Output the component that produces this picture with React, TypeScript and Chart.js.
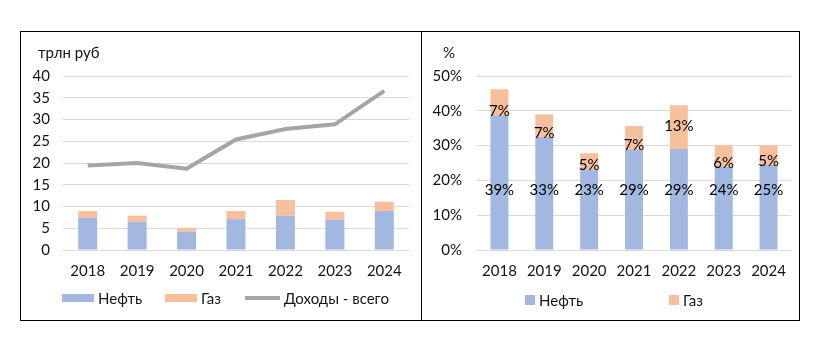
import React, { useEffect, useRef } from "react";
import { Chart, registerables } from "chart.js";

Chart.register(...registerables);

// ---- data ----
const years = ["2018", "2019", "2020", "2021", "2022", "2023", "2024"];
// left panel, трлн руб
const oilTrn = [7.4, 6.5, 4.2, 7.1, 7.9, 7.0, 9.0];
const gasTrn = [1.55, 1.4, 0.9, 1.85, 3.6, 1.8, 2.1];
const totalTrn = [19.4, 20.0, 18.7, 25.4, 27.8, 28.9, 36.6];
// right panel, % of total revenue
const oilShare = [38.7, 32.5, 23.1, 28.9, 29.0, 23.9, 24.4];
const gasShare = [7.5, 6.5, 4.7, 6.7, 12.6, 6.2, 5.7];
const oilShareLabels = ["39%", "33%", "23%", "29%", "29%", "24%", "25%"];
const gasShareLabels = ["7%", "7%", "5%", "7%", "13%", "6%", "5%"];

const FONT = "Lato, 'Liberation Sans', sans-serif";
const FS = 15;
const TEXT = "#141414";
const OIL = "#A2B8E0";
const GAS = "#F6C09C";
const LINE = "#A5A5A5";
const GRID = "#D9D9D9";

type LegendItem = { text: string; color: string; kind: "box" | "line"; x: number; w: number; h: number };

function overlayPlugin(id: string, title: string, titleX: number, items: LegendItem[], legendY: number) {
  return {
    id,
    afterDraw(chart: any) {
      const ctx = chart.ctx as CanvasRenderingContext2D;
      ctx.save();
      ctx.font = `${FS}px ${FONT}`;
      ctx.fillStyle = TEXT;
      ctx.textBaseline = "middle";
      ctx.textAlign = "left";
      ctx.fillText(title, titleX, 21);
      for (const it of items) {
        if (it.kind === "box") {
          ctx.fillStyle = it.color;
          ctx.fillRect(it.x, legendY - it.h / 2, it.w, it.h);
        } else {
          ctx.strokeStyle = it.color;
          ctx.lineWidth = 4;
          ctx.beginPath();
          ctx.moveTo(it.x, legendY);
          ctx.lineTo(it.x + it.w, legendY);
          ctx.stroke();
        }
        ctx.fillStyle = TEXT;
        ctx.fillText(it.text, it.x + it.w + 4, legendY + 1);
      }
      ctx.restore();
    },
  };
}

const shareLabelsPlugin = {
  id: "shareLabels",
  afterDatasetsDraw(chart: any) {
    const ctx = chart.ctx as CanvasRenderingContext2D;
    const yScale = chart.scales.y;
    const oilMeta = chart.getDatasetMeta(0);
    const gasMeta = chart.getDatasetMeta(1);
    ctx.save();
    ctx.font = `${FS}px ${FONT}`;
    ctx.fillStyle = "#000";
    ctx.textAlign = "center";
    ctx.textBaseline = "middle";
    oilMeta.data.forEach((bar: any, i: number) => {
      ctx.fillText(oilShareLabels[i], bar.x, yScale.getPixelForValue(17.4) + 1);
      const g = gasMeta.data[i];
      const gasPx = g.base - g.y;
      const gy = gasPx > 30 ? (g.base + g.y) / 2 - 2 : g.base - 5;
      ctx.fillText(gasShareLabels[i], g.x, gy + 1);
    });
    ctx.restore();
  },
};

function fixWidth(w: number) {
  return (scale: any) => {
    scale.width = w;
  };
}
function fixHeight(h: number) {
  return (scale: any) => {
    scale.height = h;
  };
}

function LeftChart() {
  const ref = useRef<HTMLCanvasElement>(null);
  useEffect(() => {
    const chart = new Chart(ref.current!, {
      type: "bar",
      data: {
        labels: years,
        datasets: [
          {
            type: "line",
            label: "Доходы - всего",
            data: totalTrn,
            borderColor: LINE,
            borderWidth: 4,
            pointRadius: 0,
            tension: 0,
            order: 0,
          } as any,
          { label: "Нефть", data: oilTrn, backgroundColor: OIL, order: 1, barPercentage: 0.385, categoryPercentage: 1 },
          { label: "Газ", data: gasTrn, backgroundColor: GAS, order: 1, barPercentage: 0.385, categoryPercentage: 1 },
        ],
      },
      options: {
        responsive: false,
        animation: false,
        devicePixelRatio: 1,
        layout: { padding: { left: 0, right: 12, top: 44, bottom: 40 } },
        plugins: { legend: { display: false }, tooltip: { enabled: false } },
        scales: {
          x: {
            stacked: true,
            grid: { display: false, drawTicks: false },
            border: { display: false },
            ticks: { font: { family: FONT, size: FS }, color: TEXT, padding: 12, maxRotation: 0 },
            afterFit: fixHeight(30),
          },
          y: {
            stacked: true,
            min: 0,
            max: 40,
            grid: { color: GRID, drawTicks: false },
            border: { display: false },
            ticks: { stepSize: 5, font: { family: FONT, size: FS }, color: TEXT, padding: 13 },
            afterFit: fixWidth(42),
          },
        },
      },
      plugins: [
        overlayPlugin(
          "leftOverlay",
          "трлн руб",
          17,
          [
            { text: "Нефть", color: OIL, kind: "box", x: 41, w: 32, h: 8 },
            { text: "Газ", color: GAS, kind: "box", x: 144, w: 32, h: 8 },
            { text: "Доходы - всего", color: LINE, kind: "line", x: 224, w: 35, h: 4 },
          ],
          266
        ),
      ],
    });
    return () => chart.destroy();
  }, []);
  return <canvas ref={ref} width={400} height={288} style={{ display: "block" }} />;
}

function RightChart() {
  const ref = useRef<HTMLCanvasElement>(null);
  useEffect(() => {
    const chart = new Chart(ref.current!, {
      type: "bar",
      data: {
        labels: years,
        datasets: [
          { label: "Нефть", data: oilShare, backgroundColor: OIL, barPercentage: 0.4, categoryPercentage: 1 },
          { label: "Газ", data: gasShare, backgroundColor: GAS, barPercentage: 0.4, categoryPercentage: 1 },
        ],
      },
      options: {
        responsive: false,
        animation: false,
        devicePixelRatio: 1,
        layout: { padding: { left: 0, right: 8, top: 44, bottom: 40 } },
        plugins: { legend: { display: false }, tooltip: { enabled: false } },
        scales: {
          x: {
            stacked: true,
            grid: { display: false, drawTicks: false },
            border: { display: false },
            ticks: { font: { family: FONT, size: FS }, color: TEXT, padding: 12, maxRotation: 0 },
            afterFit: fixHeight(30),
          },
          y: {
            stacked: true,
            min: 0,
            max: 50,
            grid: { color: GRID, drawTicks: false },
            border: { display: false },
            ticks: {
              stepSize: 10,
              font: { family: FONT, size: FS },
              color: TEXT,
              padding: 15,
              callback: (v: any) => `${v}%`,
            },
            afterFit: fixWidth(55),
          },
        },
      },
      plugins: [
        shareLabelsPlugin,
        overlayPlugin(
          "rightOverlay",
          "%",
          21,
          [
            { text: "Нефть", color: OIL, kind: "box", x: 103, w: 10, h: 10 },
            { text: "Газ", color: GAS, kind: "box", x: 247, w: 10, h: 10 },
          ],
          268
        ),
      ],
    });
    return () => chart.destroy();
  }, []);
  return <canvas ref={ref} width={377} height={288} style={{ display: "block" }} />;
}

export default function App() {
  return (
    <div style={{ position: "relative", width: 808, height: 322 }}>
      <div
        style={{
          position: "absolute",
          left: 12,
          top: 23,
          width: 780,
          height: 290,
          border: "1px solid #000",
          boxSizing: "border-box",
          display: "flex",
          background: "#fff",
        }}
      >
        <div style={{ width: 401, boxSizing: "border-box", borderRight: "1px solid #000" }}>
          <LeftChart />
        </div>
        <div style={{ width: 377 }}>
          <RightChart />
        </div>
      </div>
    </div>
  );
}
